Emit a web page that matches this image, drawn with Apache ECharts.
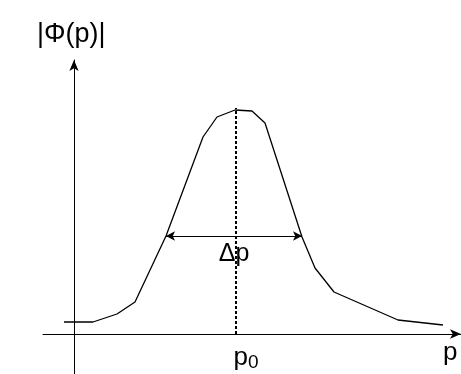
<!DOCTYPE html>
<html>
<head>
<meta charset="utf-8">
<script src="https://cdn.jsdelivr.net/npm/echarts@6/dist/echarts.min.js"></script>
<style>
html,body{margin:0;padding:0;background:#fff;}
#c{width:461px;height:374px;}
</style>
</head>
<body>
<div id="c"></div>
<script>
// Curve |Phi(p)| (arbitrary units)
const pValues   = [-1.0, 1.9, 4.3, 6.1, 9.2, 12.9, 14.3, 16.1, 17.8, 19.1, 22.8, 24.1, 26.0, 32.4, 36.9];
const phiValues = [ 1.2, 1.2, 2.0, 3.2, 9.8, 19.7, 21.7, 22.4, 22.3, 21.1,  9.7,  6.6,  4.2,  1.4,  0.9];
const p0 = 16.2;
const peakTop = 22.6;
const deltaLevel = 9.8;
const deltaLeft = 9.2;
const deltaRight = 22.8;
const yAxisTitle = '|Φ(p)|';
const xAxisTitle = 'p';
const deltaLabel = 'Δp';
const p0Label = '{a|p}{b|0}';

const FONT = 'Liberation Sans, Arial, sans-serif';
const chart = echarts.init(document.getElementById('c'));
chart.setOption({
  backgroundColor: '#fff',
  animation: false,
  grid: {left: 43, right: 0, top: 60, bottom: 0, containLabel: false, outerBoundsMode: 'none'},
  xAxis: {
    type: 'value', min: -3.1, max: 38.7,
    splitLine: {show: false},
    axisTick: {show: false},
    axisLabel: {show: false},
    axisLine: {onZero: true, lineStyle: {color: '#000', width: 1}, symbol: ['none', 'arrow'], symbolSize: [7, 11]}
  },
  yAxis: {
    type: 'value', min: -4, max: 27.4,
    splitLine: {show: false},
    axisTick: {show: false},
    axisLabel: {show: false},
    axisLine: {onZero: true, lineStyle: {color: '#000', width: 1}, symbol: ['none', 'arrow'], symbolSize: [7, 11]}
  },
  graphic: [
    {type: 'text', left: 37, top: 21, style: {text: yAxisTitle, fontFamily: FONT, fontSize: 27, fill: '#000'}},
    {type: 'text', left: 443, top: 340, style: {text: xAxisTitle, fontFamily: FONT, fontSize: 26, fill: '#000'}}
  ],
  series: [{
    type: 'line',
    data: pValues.map((p, i) => [p, phiValues[i]]),
    showSymbol: false,
    symbol: 'none',
    lineStyle: {color: '#000', width: 1.3},
    markPoint: {
      silent: true,
      symbol: 'circle',
      symbolSize: 0,
      data: [{coord: [p0, 0]}],
      label: {
        show: true,
        position: 'bottom',
        distance: 9,
        offset: [10, 0],
        formatter: p0Label,
        rich: {
          a: {fontFamily: FONT, fontSize: 26, color: '#000'},
          b: {fontFamily: FONT, fontSize: 19, color: '#000', verticalAlign: 'bottom', padding: [10, 0, 0, 0]}
        }
      }
    },
    markLine: {
      silent: true,
      animation: false,
      data: [
        [
          {coord: [deltaLeft, deltaLevel], symbol: 'arrow', symbolSize: [7, 9]},
          {coord: [deltaRight, deltaLevel], symbol: 'arrow', symbolSize: [7, 9],
           lineStyle: {color: '#000', width: 1, type: 'solid'},
           label: {show: true, position: 'insideMiddleBottom', formatter: deltaLabel, fontFamily: FONT, fontSize: 25, color: '#000', distance: 6}}
        ],
        [
          {coord: [p0, 0], symbol: 'none'},
          {coord: [p0, peakTop], symbol: 'none',
           lineStyle: {color: '#000', width: 2, type: [3, 2]},
           label: {show: false}}
        ]
      ]
    }
  }]
});
</script>
</body>
</html>
